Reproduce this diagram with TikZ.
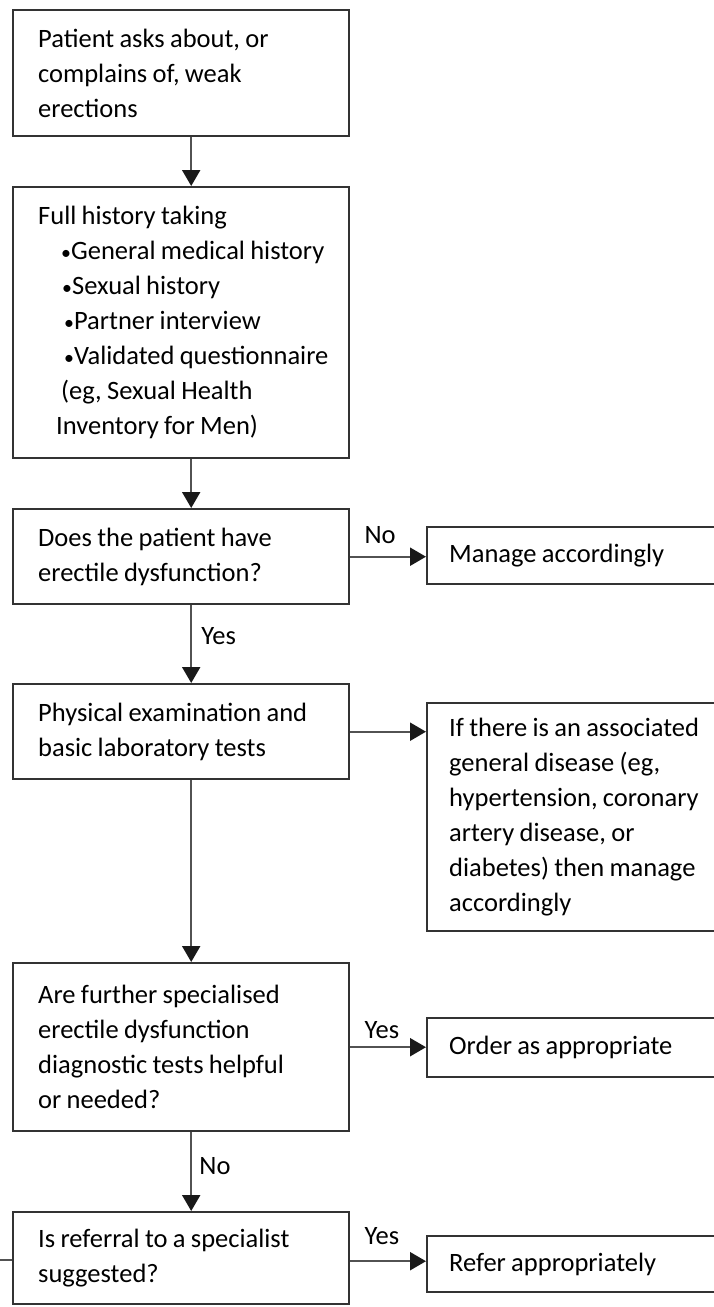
\documentclass[tikz,border=0pt]{standalone}
\usepackage{fontspec}
\setmainfont{Carlito}
\usetikzlibrary{positioning,arrows.meta}

\newcommand{\dotitem}{\scalebox{0.75}{\textbullet}}

\begin{document}
\begin{tikzpicture}[
  x=1pt, y=-1pt,
  every node/.style={font=\fontsize{26.5}{35}\selectfont},
  lbox/.style={rectangle, draw=black!80, line width=2.4pt, anchor=north west, align=left, inner xsep=6pt, inner ysep=0pt, text width=324pt, execute at begin node={\leftskip=19pt\spaceskip=0.2em plus 0.05em\relax}},
  rbox/.style={lbox, text width=292pt, execute at begin node={\leftskip=16pt\spaceskip=0.2em plus 0.05em\relax}},
  arr/.style={draw=black!68, line width=2.2pt, -{Triangle[width=18pt,length=16pt,color=black!90]}},
  link/.style={draw=black!68, line width=2.2pt},
  lbl/.style={inner sep=0pt, anchor=base west},
]
\useasboundingbox (0,0) rectangle (714,1307);
\clip (0,0) rectangle (714,1307);
\fill[white] (0,0) rectangle (714,1307);

% Main column
\node[lbox, minimum height=126pt] (complain) at (12,9) {Patient asks about, or\\complains of, weak\\erections};
\node[lbox, minimum height=271pt] (history) at (12,186) {Full history taking\\
  \hspace*{23pt}\dotitem General medical history\\
  \hspace*{24pt}\dotitem Sexual history\\
  \hspace*{26pt}\dotitem Partner interview\\
  \hspace*{26pt}\dotitem Validated questionnaire\\
  \hspace*{23pt}(eg, Sexual Health\\
  \hspace*{18pt}Inventory for Men)};
\node[lbox, minimum height=95pt] (edq) at (12,508) {Does the patient have\\erectile dysfunction?};
\node[lbox, minimum height=95pt] (exam) at (12,683) {Physical examination and\\basic laboratory tests};
\node[lbox, minimum height=168pt] (further) at (12,962) {Are further specialised\\erectile dysfunction\\diagnostic tests helpful\\or needed?};
\node[lbox, minimum height=92pt] (referral) at (12,1211) {Is referral to a specialist\\suggested?};

% Side boxes
\node[rbox, minimum height=57pt] (manage) at (426,526) {Manage accordingly};
\node[rbox, minimum height=228pt] (assoc) at (426,702) {If there is an associated\\general disease (eg,\\hypertension, coronary\\artery disease, or\\diabetes) then manage\\accordingly};
\node[rbox, minimum height=59pt] (order) at (426,1017) {Order as appropriate};
\node[rbox, minimum height=56pt] (refer) at (426,1235) {Refer appropriately};

% Arrows down
\draw[arr] ([xshift=10pt]complain.south) -- ([xshift=10pt]history.north);
\draw[arr] ([xshift=10pt]history.south) -- ([xshift=10pt]edq.north);
\draw[arr] ([xshift=10pt]edq.south) -- ([xshift=10pt]exam.north);
\draw[arr] ([xshift=10pt]exam.south) -- ([xshift=10pt]further.north);
\draw[arr] ([xshift=10pt]further.south) -- ([xshift=10pt]referral.north);

% Arrows right
\coordinate (referout) at ([yshift=-3pt]referral.east);
\draw[arr] (edq.east) -- (edq.east -| manage.west);
\draw[arr] (exam.east) -- (exam.east -| assoc.west);
\draw[arr] (further.east) -- (further.east -| order.west);
\draw[arr] (referout) -- (referout -| refer.west);

% Incoming line from the left
\coordinate (offleft) at (0,1260);
\draw[link] (offleft) -- (offleft -| referral.west);

% Labels
\node[lbl] (noedq) at ([xshift=14pt,yshift=13pt]edq.east) {No};
\node[lbl] (yesedq) at ([xshift=20pt,yshift=-39pt]edq.south) {Yes};
\node[lbl] (yesorder) at ([xshift=14pt,yshift=9pt]further.east) {Yes};
\node[lbl] (nofurther) at ([xshift=18pt,yshift=-42pt]further.south) {No};
\node[lbl] (yesrefer) at ([xshift=14pt,yshift=14pt]referral.east) {Yes};

\end{tikzpicture}
\end{document}
